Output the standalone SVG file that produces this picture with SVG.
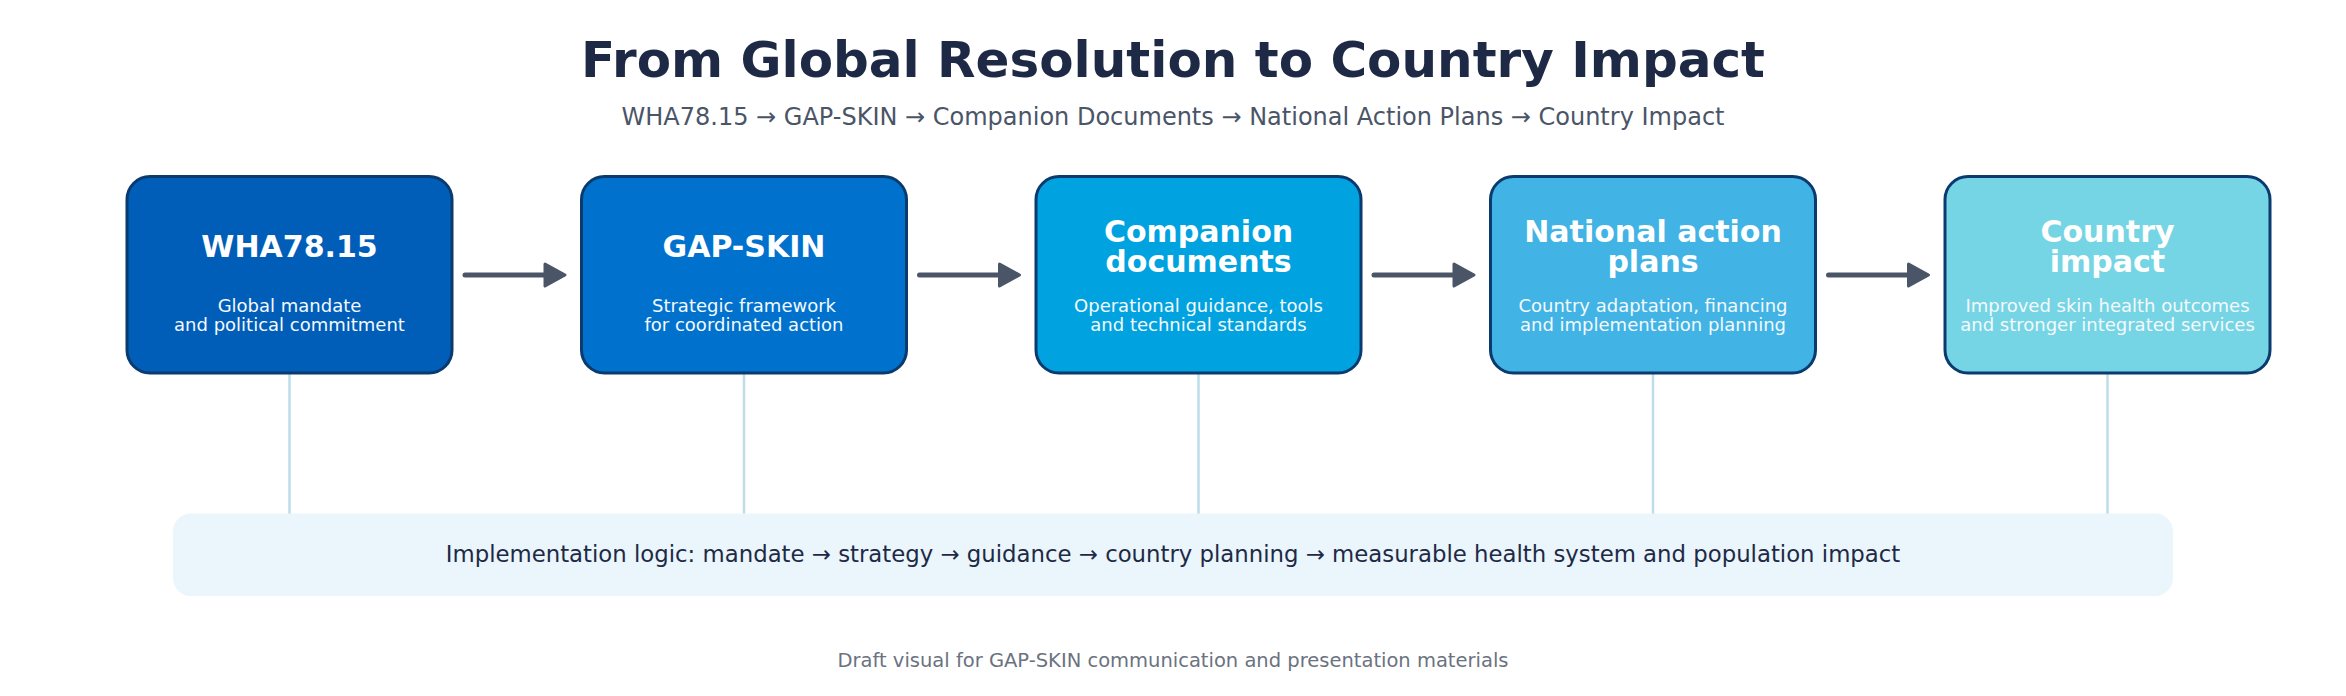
<svg xmlns="http://www.w3.org/2000/svg" width="2346" height="696" viewBox="0 0 2346 696">
<style>
text{font-family:"DejaVu Sans","Liberation Sans",sans-serif;text-anchor:middle}
.title{font-size:50px;font-weight:bold;fill:#1e2a45}
.sub{font-size:24px;fill:#4a5568}
.box{stroke:#0a3a6e;stroke-width:3}
.bt{font-size:30px;font-weight:bold;fill:#ffffff}
.bs{font-size:18px;fill:#f4f9fd}
.arrow line{stroke:#4a5568;stroke-width:5;stroke-linecap:round}
.arrow polygon{fill:#4a5568;stroke:#4a5568;stroke-width:3;stroke-linejoin:round}
.vl{stroke:#bcdde9;stroke-width:2.5}
.band{fill:#eaf5fc}
.bandt{font-size:22.8px;fill:#1e2a45}
.foot{font-size:19.5px;fill:#6b7280}
</style>
<rect width="2346" height="696" fill="#ffffff"/>
<text class="title" x="1173" y="77">From Global Resolution to Country Impact</text>
<text class="sub" x="1173" y="124.5">WHA78.15 → GAP-SKIN → Companion Documents → National Action Plans → Country Impact</text>
<g id="connectors">
<g class="vlines">
<line class="vl" x1="289.5" y1="373" x2="289.5" y2="514"/>
<line class="vl" x1="744" y1="373" x2="744" y2="514"/>
<line class="vl" x1="1198.5" y1="373" x2="1198.5" y2="514"/>
<line class="vl" x1="1653" y1="373" x2="1653" y2="514"/>
<line class="vl" x1="2107.5" y1="373" x2="2107.5" y2="514"/>
</g>
<g class="arrow">
<line x1="465" y1="275" x2="546" y2="275"/><polygon points="545,264 565,275 545,286"/>
</g>
<g class="arrow">
<line x1="919.5" y1="275" x2="1000.5" y2="275"/><polygon points="999.5,264 1019.5,275 999.5,286"/>
</g>
<g class="arrow">
<line x1="1374" y1="275" x2="1455" y2="275"/><polygon points="1454,264 1474,275 1454,286"/>
</g>
<g class="arrow">
<line x1="1828.5" y1="275" x2="1909.5" y2="275"/><polygon points="1908.5,264 1928.5,275 1908.5,286"/>
</g>
</g>
<g id="node-wha">
<rect class="box" x="127" y="176.5" width="325" height="196.5" rx="23" fill="#005eb8"/>
<text class="bt" x="289.5" y="257">WHA78.15</text>
<text class="bs" x="289.5" y="312">Global mandate</text>
<text class="bs" x="289.5" y="331">and political commitment</text>
</g>
<g id="node-gapskin">
<rect class="box" x="581.5" y="176.5" width="325" height="196.5" rx="23" fill="#0072ce"/>
<text class="bt" x="744" y="257">GAP-SKIN</text>
<text class="bs" x="744" y="312">Strategic framework</text>
<text class="bs" x="744" y="331">for coordinated action</text>
</g>
<g id="node-companion">
<rect class="box" x="1036" y="176.5" width="325" height="196.5" rx="23" fill="#00a3e0"/>
<text class="bt" x="1198.5" y="242">Companion</text>
<text class="bt" x="1198.5" y="272">documents</text>
<text class="bs" x="1198.5" y="312">Operational guidance, tools</text>
<text class="bs" x="1198.5" y="331">and technical standards</text>
</g>
<g id="node-nap">
<rect class="box" x="1490.5" y="176.5" width="325" height="196.5" rx="23" fill="#41b4e5"/>
<text class="bt" x="1653" y="242">National action</text>
<text class="bt" x="1653" y="272">plans</text>
<text class="bs" x="1653" y="312">Country adaptation, financing</text>
<text class="bs" x="1653" y="331">and implementation planning</text>
</g>
<g id="node-impact">
<rect class="box" x="1945" y="176.5" width="325" height="196.5" rx="23" fill="#76d5e4"/>
<text class="bt" x="2107.5" y="242">Country</text>
<text class="bt" x="2107.5" y="272">impact</text>
<text class="bs" x="2107.5" y="312">Improved skin health outcomes</text>
<text class="bs" x="2107.5" y="331">and stronger integrated services</text>
</g>
<g id="node-logic">
<rect class="band" x="173" y="513.5" width="2000" height="82.5" rx="18"/>
<text class="bandt" x="1173" y="561.5">Implementation logic: mandate → strategy → guidance → country planning → measurable health system and population impact</text>
</g>
<text class="foot" x="1173" y="667">Draft visual for GAP-SKIN communication and presentation materials</text>
</svg>
